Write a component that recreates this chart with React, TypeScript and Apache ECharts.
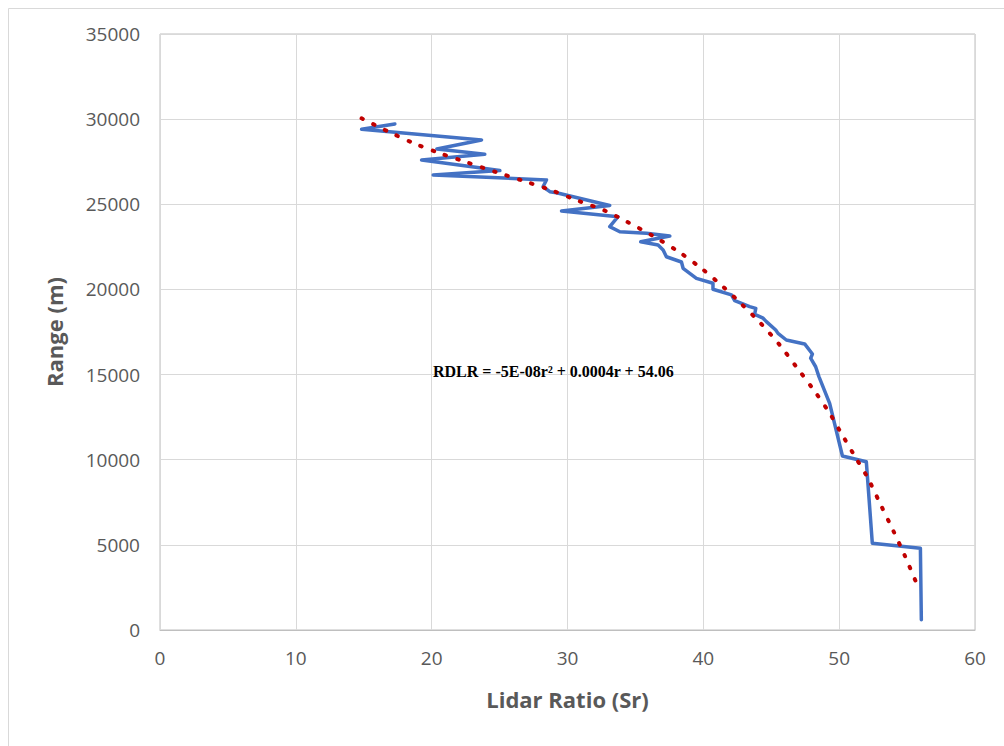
import React, { useEffect, useRef } from "react";
import * as echarts from "echarts";

// Measured lidar ratio (Sr) vs range (m), traced bottom to top
const lidarRatio = [
  56.05, 55.98, 52.44, 52.0, 50.24, 49.3, 48.51, 48.27, 47.9, 48.03, 47.46, 46.11,
  45.5, 45.33, 44.64, 44.4, 43.78, 43.86, 43.41, 42.31, 42.07, 40.71, 40.71, 39.49,
  38.51, 38.39, 37.28, 37.04, 36.67, 35.39, 37.53, 35.81, 33.85, 33.11, 33.72, 29.56,
  33.11, 29.19, 28.7, 28.2, 28.45, 20.11, 25.02, 19.26, 23.91, 20.38, 23.67, 14.84, 17.29,
];
const rangeM = [
  600, 4800, 5100, 9880, 10220, 13310, 14880, 15460, 15960, 16210, 16800, 17030,
  17420, 17620, 18110, 18310, 18540, 18890, 18990, 19340, 19680, 20010, 20360, 20650,
  21240, 21610, 21920, 22320, 22610, 22800, 23140, 23300, 23390, 23690, 24270, 24610,
  24930, 25680, 25740, 26030, 26430, 26720, 26980, 27600, 27940, 28250, 28780, 29410, 29720,
];

// Polynomial trend line (dotted)
const trendRatio = [
  14.84, 16.8, 18.71, 20.48, 22.49, 24.7, 26.69, 28.75, 30.78, 32.74, 34.41, 36.25,
  38.09, 39.86, 41.45, 42.75, 44.22, 45.62, 46.89, 48.03, 49.23, 50.04, 51.14, 52.12,
  53.03, 53.96, 54.84, 55.68, 55.92,
];
const trendRange = [
  30050, 29270, 28580, 28030, 27490, 26900, 26390, 25840, 25210, 24630, 23960, 23160,
  22260, 21240, 20160, 19190, 18010, 16740, 15410, 14200, 12820, 11710, 10220, 8910,
  7400, 5870, 4350, 2780, 2390,
];

const xTicks = { min: 0, max: 60, interval: 10 };
const yTicks = { min: 0, max: 35000, interval: 5000 };

const xTitle = "Lidar Ratio (Sr)";
const yTitle = "Range (m)";
const equation = "RDLR = -5E-08r\u00B2 + 0.0004r + 54.06";

export default function App() {
  const ref = useRef<HTMLDivElement>(null);

  useEffect(() => {
    document.body.style.margin = "0";
    if (!ref.current) return;
    const chart = echarts.init(ref.current, undefined, { renderer: "svg" });
    const labelFont = { fontFamily: "Open Sans", fontSize: 19, color: "#595959" };
    chart.setOption({
      animation: false,
      backgroundColor: "#ffffff",
      grid: {
        left: 160,
        right: 29,
        top: 34,
        bottom: 116,
        show: true,
        borderColor: "#bfbfbf",
        borderWidth: 1,
      },
      xAxis: {
        type: "value",
        min: xTicks.min,
        max: xTicks.max,
        interval: xTicks.interval,
        name: xTitle,
        nameLocation: "middle",
        nameGap: 58,
        nameTextStyle: {
          fontFamily: "Open Sans",
          fontSize: 22,
          fontWeight: "bold",
          color: "#595959",
        },
        axisLine: { show: true, lineStyle: { color: "#bfbfbf", width: 1 } },
        axisTick: { show: false },
        axisLabel: { ...labelFont, margin: 18 },
        splitLine: { show: true, lineStyle: { color: "#d9d9d9", width: 1 } },
      },
      yAxis: {
        type: "value",
        min: yTicks.min,
        max: yTicks.max,
        interval: yTicks.interval,
        name: yTitle,
        nameLocation: "middle",
        nameGap: 95,
        nameTextStyle: {
          fontFamily: "Open Sans",
          fontSize: 22,
          fontWeight: "bold",
          color: "#595959",
        },
        axisLine: { show: false },
        axisTick: { show: false },
        axisLabel: { ...labelFont, margin: 20, formatter: (v: number) => String(v) },
        splitLine: { show: true, lineStyle: { color: "#d9d9d9", width: 1 } },
      },
      series: [
        {
          type: "line",
          data: lidarRatio.map((v, i) => [v, rangeM[i]]),
          showSymbol: false,
          symbol: "none",
          lineStyle: { color: "#4472C4", width: 3.5, join: "round", cap: "round" },
          z: 2,
        },
        {
          type: "line",
          data: trendRatio.map((v, i) => [v, trendRange[i]]),
          showSymbol: false,
          symbol: "none",
          smooth: 0.3,
          lineStyle: { color: "#C00000", width: 4, type: [1.5, 11.5], cap: "round" },
          z: 3,
        },
      ],
      graphic: [
        {
          type: "rect",
          left: 6,
          top: 6,
          shape: { x: 0, y: 0, width: 1100, height: 1000 },
          style: { fill: "none", stroke: "#d9d9d9", lineWidth: 1 },
          silent: true,
          z: -1,
        },
        {
          type: "text",
          left: 433,
          top: 363,
          style: {
            text: equation,
            fontFamily: "Liberation Serif",
            fontWeight: "bold",
            fontSize: 16,
            fill: "#000000",
          },
          z: 10,
        },
      ],
    });
    return () => chart.dispose();
  }, []);

  return <div ref={ref} style={{ width: 1004, height: 746 }} />;
}
